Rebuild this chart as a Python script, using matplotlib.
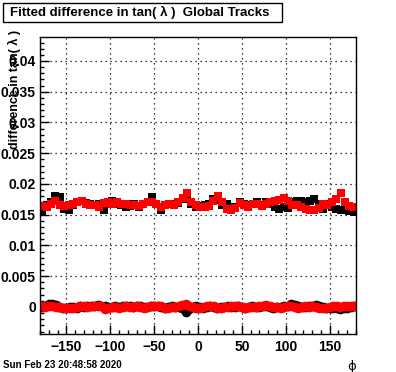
import numpy as np
import matplotlib
matplotlib.use('Agg')
import matplotlib.pyplot as plt
from matplotlib.patches import Rectangle
from matplotlib.ticker import MultipleLocator

plt.rcParams['font.family'] = ['Liberation Sans', 'DejaVu Sans']

# бины по phi (5 градусов) для верхней полосы
phi_hi = np.arange(-177.5, 180, 5.0)
black_hi = [0.0155, 0.0165, 0.0170, 0.0181, 0.0178, 0.0160, 0.0157, 0.0166, 0.0170, 0.0173,
            0.0169, 0.0167, 0.0166, 0.0168, 0.0157, 0.0170, 0.0172, 0.0168, 0.0166, 0.0162,
            0.0164, 0.0167, 0.0163, 0.0168, 0.0171, 0.0178, 0.0167, 0.0158, 0.0166, 0.0168,
            0.0167, 0.0169, 0.0175, 0.0176, 0.0168, 0.0163, 0.0164, 0.0166, 0.0168, 0.0176,
            0.0174, 0.0165, 0.0168, 0.0159, 0.0163, 0.0170, 0.0168, 0.0165, 0.0168, 0.0170,
            0.0166, 0.0171, 0.0167, 0.0163, 0.0160, 0.0163, 0.0161, 0.0170, 0.0173, 0.0172,
            0.0170, 0.0172, 0.0176, 0.0167, 0.0160, 0.0168, 0.0162, 0.0160, 0.0158, 0.0157,
            0.0156, 0.0155]
red_hi = [0.0164, 0.0163, 0.0168, 0.0173, 0.0166, 0.0164, 0.0165, 0.0168, 0.0171, 0.0172,
          0.0168, 0.0166, 0.0165, 0.0163, 0.0169, 0.0170, 0.0168, 0.0170, 0.0167, 0.0168,
          0.0166, 0.0165, 0.0164, 0.0167, 0.0170, 0.0171, 0.0168, 0.0162, 0.0165, 0.0167,
          0.0166, 0.0171, 0.0177, 0.0186, 0.0170, 0.0165, 0.0163, 0.0162, 0.0164, 0.0172,
          0.0180, 0.0170, 0.0160, 0.0158, 0.0161, 0.0169, 0.0166, 0.0163, 0.0168, 0.0167,
          0.0164, 0.0168, 0.0170, 0.0172, 0.0174, 0.0177, 0.0172, 0.0166, 0.0165, 0.0163,
          0.0160, 0.0158, 0.0157, 0.0161, 0.0168, 0.0166, 0.0170, 0.0175, 0.0186, 0.0170,
          0.0164, 0.0163]

# бины по 4 градуса для нижней полосы (около нуля)
phi_lo = np.arange(-178, 180, 4.0)
black_lo = [0.0000, 0.0001, 0.0004, 0.0005, 0.0003, 0.0000, -0.0001, -0.0001, 0.0000, 0.0000,
            -0.0001, 0.0001, 0.0000, 0.0001, 0.0002, 0.0002, 0.0003, 0.0002, 0.0001, 0.0000,
            0.0000, 0.0001, 0.0000, 0.0001, 0.0002, 0.0001, 0.0000, 0.0001, 0.0001, 0.0000,
            0.0000, 0.0002, 0.0001, 0.0001, 0.0000, -0.0001, 0.0000, 0.0001, 0.0000, 0.0000,
            -0.0002, -0.0008, -0.0004, 0.0000, 0.0001, 0.0000, -0.0001, 0.0000, 0.0001, 0.0000,
            -0.0001, 0.0000, 0.0000, 0.0001, 0.0000, 0.0000, 0.0001, 0.0000, -0.0001, 0.0000,
            0.0001, 0.0000, 0.0000, 0.0001, 0.0001, 0.0000, -0.0001, 0.0000, 0.0000, 0.0001,
            0.0002, 0.0004, 0.0003, 0.0001, 0.0000, 0.0000, 0.0001, 0.0002, 0.0003, 0.0002,
            0.0000, -0.0002, -0.0002, -0.0001, -0.0002, -0.0003, -0.0002, -0.0001, 0.0000, 0.0001]
red_lo = [0.0001, 0.0000, 0.0001, 0.0001, 0.0000, 0.0000, -0.0001, -0.0002, -0.0001, -0.0001,
          0.0000, 0.0001, 0.0001, 0.0000, 0.0001, 0.0002, 0.0002, 0.0001, -0.0003, -0.0002,
          0.0000, 0.0000, -0.0001, 0.0000, 0.0001, 0.0000, 0.0000, 0.0001, 0.0000, -0.0001,
          0.0000, 0.0001, 0.0001, 0.0002, 0.0001, -0.0001, -0.0001, 0.0000, 0.0000, 0.0001,
          0.0003, 0.0004, 0.0002, 0.0000, -0.0001, -0.0001, 0.0000, 0.0001, 0.0002, 0.0001,
          -0.0001, -0.0001, 0.0000, 0.0000, 0.0001, 0.0002, 0.0001, 0.0000, -0.0001, 0.0000,
          0.0000, 0.0000, 0.0001, 0.0002, 0.0003, 0.0002, 0.0000, 0.0000, -0.0001, 0.0000,
          0.0001, 0.0001, 0.0000, -0.0001, 0.0000, 0.0001, 0.0000, 0.0001, 0.0000, -0.0001,
          -0.0001, -0.0001, 0.0000, 0.0001, 0.0001, 0.0000, 0.0001, 0.0002, 0.0001, 0.0002]

fig = plt.figure(figsize=(3.96, 3.72), dpi=100)
ax = fig.add_axes([40 / 396, 38 / 372, 316 / 396, 297 / 372])

ax.plot(phi_lo, black_lo, 'o', color='black', ms=7, mew=0)
ax.plot(phi_hi, black_hi, 's', color='black', ms=6, mew=0)
ax.plot(phi_lo, red_lo, 'o', color='red', ms=7, mew=0)
ax.plot(phi_hi, red_hi, 's', color='red', ms=6, mew=0)

ax.set_xlim(-180, 180)
ax.set_ylim(-0.0044, 0.0439)
ax.xaxis.set_major_locator(MultipleLocator(50))
ax.xaxis.set_minor_locator(MultipleLocator(10))
ax.yaxis.set_major_locator(MultipleLocator(0.005))
ax.yaxis.set_minor_locator(MultipleLocator(0.001))
ax.yaxis.set_major_formatter(plt.FuncFormatter(lambda v, p: '%g' % round(v, 4)))
ax.tick_params(which='both', direction='in', width=1)
ax.tick_params(which='major', length=6.5)
ax.tick_params(which='minor', length=3.2)
ax.tick_params(axis='y', pad=3)
ax.tick_params(axis='x', pad=4)
for lab in ax.get_xticklabels() + ax.get_yticklabels():
    lab.set_fontsize(10)
    lab.set_fontweight('bold')
ax.grid(True, which='major', color='black', linestyle=(0, (1, 3)), linewidth=0.9)
for s in ax.spines.values():
    s.set_linewidth(1)

ax.text(1.0, -0.088, 'ϕ', transform=ax.transAxes, ha='right', va='top',
        fontsize=9.5, family='DejaVu Sans')
ax.text(-0.08, 1.025, 'difference in tan( λ )', transform=ax.transAxes, rotation=90,
        ha='center', va='top', fontsize=9, fontweight='bold')

# заголовок в рамке
fig.patches.append(Rectangle((3 / 396, 1 - 22 / 372), 279 / 396, 19 / 372,
                             transform=fig.transFigure, facecolor='white',
                             edgecolor='black', linewidth=1))
fig.text(10 / 396, 1 - 12.5 / 372, 'Fitted difference in tan( λ )  Global Tracks',
         ha='left', va='center', fontsize=9.5, fontweight='bold')

fig.text(3 / 396, 1 - 365 / 372, 'Sun Feb 23 20:48:58 2020', ha='left', va='center',
         fontsize=7, fontweight='bold')

plt.savefig('out.png', dpi=100)
